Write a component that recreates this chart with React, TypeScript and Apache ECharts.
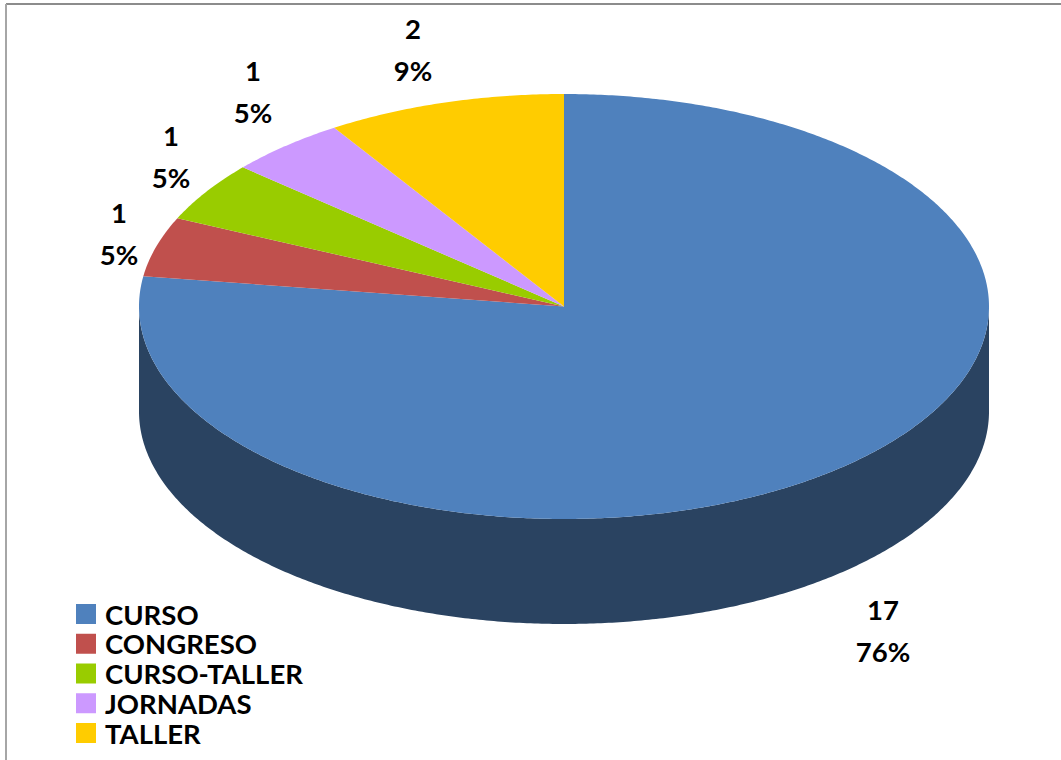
import React, { useEffect, useRef } from "react";
import * as echarts from "echarts";

const categories = ["CURSO", "CONGRESO", "CURSO-TALLER", "JORNADAS", "TALLER"];
const values = [17, 1, 1, 1, 2];
const percentLabels = ["76%", "5%", "5%", "5%", "9%"];
const topColors = ["#4F81BD", "#C0504D", "#99CC00", "#CC99FF", "#FFCC00"];
const sideColors = ["#2A4361", "#6F2F2D", "#5A7800", "#775A96", "#967800"];
const labelCenters = [
  [883, 609],
  [119, 212],
  [171, 135],
  [253, 70],
  [413, 28],
];

const CX = 564;
const CY = 306.5;
const RX = 425;
const RY = 212.5;
const DEPTH = 105;
const LABEL_GAP = 42;
const FONT = "Lato, sans-serif";
const FONT_SIZE = 27.5;

const total = values.reduce((a, b) => a + b, 0);
const pointAt = (deg: number, dy = 0) => {
  const t = (deg * Math.PI) / 180;
  return [CX + RX * Math.sin(t), CY - RY * Math.cos(t) + dy];
};

function renderSlice(index: number) {
  return (_params: any, api: any) => {
    const value = api.value(0);
    const before = values.slice(0, index).reduce((a, b) => a + b, 0);
    const start = (before / total) * 360;
    const end = start + (value / total) * 360;
    const children: any[] = [];

    const sideStart = Math.max(start, 90);
    const sideEnd = Math.min(end, 270);
    if (sideEnd > sideStart) {
      const upper: number[][] = [];
      const lower: number[][] = [];
      for (let a = sideStart; a < sideEnd; a += 0.5) {
        upper.push(pointAt(a));
        lower.push(pointAt(a, DEPTH));
      }
      upper.push(pointAt(sideEnd));
      lower.push(pointAt(sideEnd, DEPTH));
      children.push({
        type: "polygon",
        shape: { points: upper.concat(lower.reverse()) },
        style: { fill: sideColors[index] },
      });
    }

    const top: number[][] = [[CX, CY]];
    for (let a = start; a < end; a += 0.5) top.push(pointAt(a));
    top.push(pointAt(end));
    children.push({
      type: "polygon",
      shape: { points: top },
      style: { fill: topColors[index] },
    });

    const [lx, ly] = labelCenters[index];
    [String(value), percentLabels[index]].forEach((text, i) => {
      children.push({
        type: "text",
        style: {
          text,
          x: lx,
          y: ly + i * LABEL_GAP,
          fill: "#000",
          font: `bold ${FONT_SIZE}px ${FONT}`,
          align: "center",
          verticalAlign: "middle",
        },
      });
    });
    return { type: "group", children };
  };
}

export default function App() {
  const ref = useRef<HTMLDivElement>(null);
  useEffect(() => {
    const chart = echarts.init(ref.current!, null, { renderer: "svg" });
    chart.setOption({
      animation: false,
      backgroundColor: "#fff",
      graphic: [
        {
          type: "line",
          shape: { x1: 6, y1: 4, x2: 1061, y2: 4 },
          style: { stroke: "#8C8C8C", lineWidth: 2 },
        },
        {
          type: "line",
          shape: { x1: 6, y1: 4, x2: 6, y2: 760 },
          style: { stroke: "#A6A6A6", lineWidth: 2 },
        },
      ],
      legend: {
        orient: "vertical",
        left: 76,
        top: 600,
        padding: 0,
        icon: "rect",
        itemWidth: 20,
        itemHeight: 20,
        itemGap: 1.75,
        data: categories,
        selectedMode: false,
        textStyle: {
          color: "#000",
          fontFamily: FONT,
          fontWeight: "bold",
          fontSize: FONT_SIZE,
          padding: [0, 0, 0, 4],
        },
      },
      series: categories.map((name, i) => ({
        type: "custom",
        name,
        coordinateSystem: "none",
        itemStyle: { color: topColors[i] },
        data: [[values[i]]],
        renderItem: renderSlice(i),
      })),
    });
    return () => chart.dispose();
  }, []);
  return (
    <div
      ref={ref}
      style={{ position: "fixed", left: 0, top: 0, width: 1061, height: 760 }}
    />
  );
}
